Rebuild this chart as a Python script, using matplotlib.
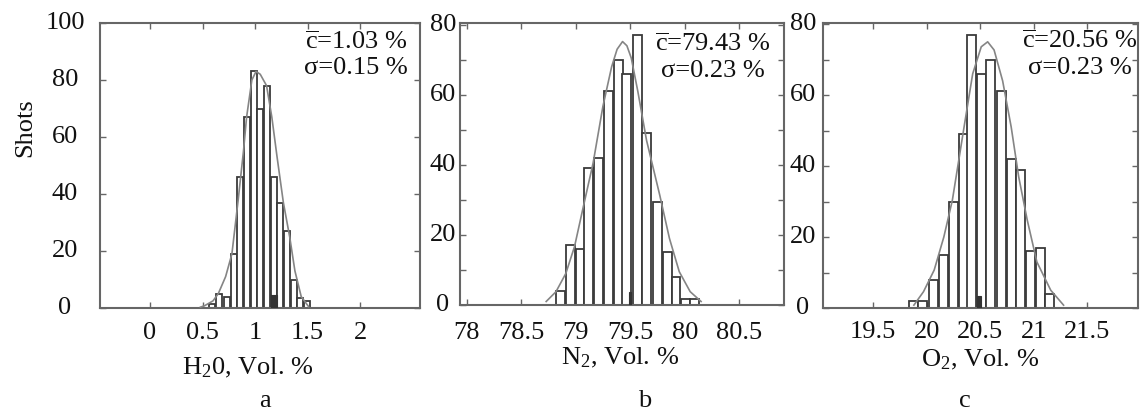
import matplotlib.pyplot as plt

plt.rcParams['font.family'] = 'Liberation Serif'
plt.rcParams['mathtext.fontset'] = 'custom'
plt.rcParams['mathtext.rm'] = 'Liberation Serif'
plt.rcParams['mathtext.it'] = 'Liberation Serif:italic'

FS = 19

# a: H2O histogram
h2o_centers = [0.59, 0.66, 0.735, 0.80, 0.855, 0.925, 0.99, 1.05, 1.115, 1.18, 1.24, 1.305, 1.37, 1.43, 1.495]
h2o_counts = [1.5, 5, 4, 19, 46, 67, 83, 70, 78, 46, 37, 27, 10, 3.5, 2.5]
h2o_dark = [1.18, 4.6]
h2o_fit_x = [0.48, 0.52, 0.60, 0.65, 0.72, 0.78, 0.84, 0.89, 0.92, 0.97, 1.01, 1.05, 1.11, 1.16, 1.21, 1.27, 1.33, 1.38, 1.44, 1.51]
h2o_fit_y = [0.3, 0.8, 2.5, 5, 11, 19, 38, 55, 67, 80, 83, 82, 78, 67, 53, 37, 25, 13, 4, 0.5]

# b: N2 histogram
n2_centers = [78.86, 78.95, 79.04, 79.12, 79.21, 79.30, 79.39, 79.47, 79.57, 79.65, 79.75, 79.84, 79.92, 80.01, 80.09]
n2_counts = [4, 17, 16, 39, 42, 61, 70, 66, 77, 49, 29.5, 15, 8, 1.6, 1.6]
n2_dark = [79.50, 3.8]
n2_fit_x = [78.73, 78.82, 78.91, 78.99, 79.07, 79.16, 79.25, 79.33, 79.38, 79.43, 79.47, 79.51, 79.57, 79.65, 79.77, 79.86, 79.95, 80.05, 80.15]
n2_fit_y = [1, 3.8, 9, 16.7, 28, 40.5, 56.7, 68, 73, 75.2, 74, 70.5, 61, 47, 31.5, 19, 9.5, 3.8, 1]

# c: O2 histogram
o2_centers = [19.88, 19.96, 20.06, 20.16, 20.25, 20.34, 20.42, 20.51, 20.60, 20.70, 20.79, 20.88, 20.97, 21.06, 21.15]
o2_counts = [2, 2, 8, 15, 30, 49, 77, 66, 70, 61, 42, 39, 16, 17, 4]
o2_dark = [20.49, 3.5]
o2_fit_x = [19.88, 19.97, 20.07, 20.16, 20.24, 20.30, 20.36, 20.43, 20.51, 20.57, 20.63, 20.71, 20.79, 20.86, 20.94, 21.03, 21.16, 21.28]
o2_fit_y = [0.8, 4.6, 10.7, 20, 30.4, 41.7, 53, 66, 73.6, 75, 72.7, 64, 51, 37, 24.8, 13, 5, 0.8]

panels = [
    dict(centers=h2o_centers, counts=h2o_counts, dark=h2o_dark, fx=h2o_fit_x, fy=h2o_fit_y,
         width=0.058, dark_w=0.05, xlim=(-0.476, 2.571), ylim=(0, 100),
         xticks=[0, 0.5, 1, 1.5, 2], xticklabels=['0', '0.5', '1', '1.5', '2'],
         yticks=[0, 20, 40, 60, 80, 100], yminor=[],
         xlabel=r'H$_2$0, Vol. %', mean=r'$\overline{\mathrm{c}}$=1.03 %', sigma='σ=0.15 %',
         rect=[100, 23, 420, 308], ypad=25.2, xpad=18, xlab=(248, 368), txt=(356, 42, 68),
         letter=('a', 265)),
    dict(centers=n2_centers, counts=n2_counts, dark=n2_dark, fx=n2_fit_x, fy=n2_fit_y,
         width=0.082, dark_w=0.014, xlim=(77.94, 80.91), ylim=(0, 80.5),
         xticks=[78, 78.5, 79, 79.5, 80, 80.5], xticklabels=['78', '78.5', '79', '79.5', '80', '80.5'],
         yticks=[0, 20, 40, 60, 80], yminor=[10, 30, 50, 70],
         xlabel=r'N$_2$, Vol. %', mean=r'$\overline{\mathrm{c}}$=79.43 %', sigma='σ=0.23 %',
         rect=[460, 23, 784, 305], ypad=12.2, xpad=20, xlab=(620, 358), txt=(713, 44, 71),
         letter=('b', 645)),
    dict(centers=o2_centers, counts=o2_counts, dark=o2_dark, fx=o2_fit_x, fy=o2_fit_y,
         width=0.085, dark_w=0.035, xlim=(19.03, 21.976), ylim=(0, 80.3),
         xticks=[19.5, 20, 20.5, 21, 21.5], xticklabels=['19.5', '20', '20.5', '21', '21.5'],
         yticks=[0, 20, 40, 60, 80], yminor=[10, 30, 50, 70],
         xlabel=r'O$_2$, Vol. %', mean=r'$\overline{\mathrm{c}}$=20.56 %', sigma='σ=0.23 %',
         rect=[823, 23, 1138, 308], ypad=14.4, xpad=17, xlab=(980, 360), txt=(1080, 41, 68),
         letter=('c', 965)),
]

W, H = 1140, 412
fig = plt.figure(figsize=(W / 100, H / 100), dpi=100)

for i, p in enumerate(panels):
    x0, y0, x1, y1 = p['rect']
    ax = fig.add_axes([x0 / W, 1 - y1 / H, (x1 - x0) / W, (y1 - y0) / H])
    ax.bar(p['centers'], p['counts'], width=p['width'], color='white',
           edgecolor='#3a3a3a', linewidth=1.3, zorder=2)
    ax.bar([p['dark'][0]], [p['dark'][1]], width=p['dark_w'], color='#333333',
           edgecolor='#333333', linewidth=0.8, zorder=3)
    ax.plot(p['fx'], p['fy'], color='#858585', linewidth=1.2, zorder=4)

    ax.set_xlim(*p['xlim'])
    ax.set_ylim(*p['ylim'])
    ax.set_xticks(p['xticks'])
    ax.set_xticklabels(p['xticklabels'])
    ax.set_yticks(p['yticks'])
    if p['yminor']:
        ax.set_yticks(p['yminor'], minor=True)
    ax.tick_params(which='both', direction='in', length=4, width=1.0, color='#666666',
                   top=True, right=True, labelsize=FS, labelcolor='#111111')
    ax.tick_params(axis='y', pad=p['ypad'])
    ax.tick_params(axis='x', pad=p['xpad'])
    for lab in ax.get_yticklabels():
        lab.set_horizontalalignment('center')
        lab.set_verticalalignment('center')
    for lab in ax.get_xticklabels():
        lab.set_verticalalignment('center')
    for sp in ax.spines.values():
        sp.set_color('#666666')
        sp.set_linewidth(1.5)

    ax.set_xlabel(p['xlabel'], fontsize=FS, color='#111111')
    lx, ly = p['xlab']
    ax.xaxis.set_label_coords((lx - x0) / (x1 - x0), (y1 - ly) / (y1 - y0))
    ax.xaxis.label.set_verticalalignment('center')

    tx, t1, t2 = p['txt']
    ax.text((tx - x0) / (x1 - x0), (y1 - t1) / (y1 - y0), p['mean'], transform=ax.transAxes,
            ha='center', va='center', fontsize=FS, color='#111111', zorder=5)
    ax.text((tx - x0) / (x1 - x0), (y1 - t2) / (y1 - y0), p['sigma'], transform=ax.transAxes,
            ha='center', va='center', fontsize=FS, color='#111111', zorder=5)

    if i == 0:
        ax.set_ylabel('Shots', fontsize=FS, color='#111111')
        ax.yaxis.set_label_coords((25 - x0) / (x1 - x0), (y1 - 128) / (y1 - y0))
        ax.yaxis.label.set_verticalalignment('center')

    letter, lxp = p['letter']
    fig.text(lxp / W, 1 - 401 / H, letter, ha='center', va='center', fontsize=FS, color='#111111')

fig.savefig('out.png', dpi=100)
